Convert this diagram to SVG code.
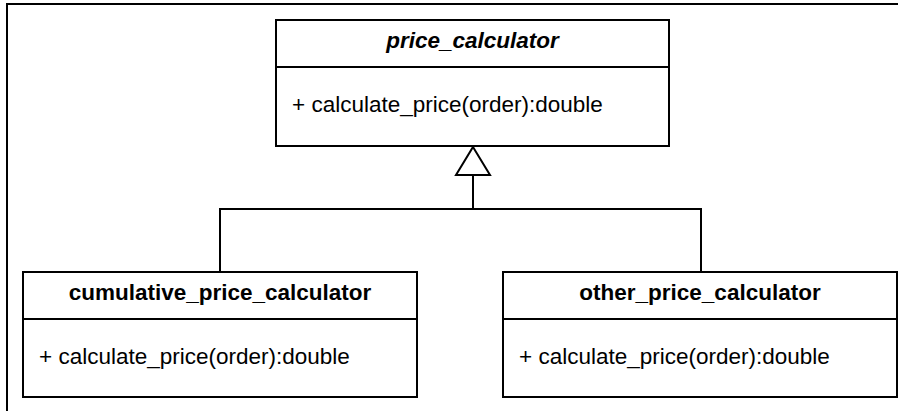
<svg xmlns="http://www.w3.org/2000/svg" width="898" height="411" viewBox="0 0 898 411">
<style>
.box{fill:#fff;stroke:#000;stroke-width:2}
.ln{fill:none;stroke:#000;stroke-width:2}
.hd{font-family:"Liberation Sans",Arial,sans-serif;font-size:22.5px;font-weight:bold;text-anchor:middle;fill:#000}
.it{font-style:italic}
.mb{font-family:"Liberation Sans",Arial,sans-serif;font-size:22.5px;fill:#000}
</style>
<rect width="898" height="411" fill="#fff"/>
<path class="ln" d="M7,411 V4 H898" stroke-width="2.5"/>
<g id="connectors">
<path class="ln" d="M220,272 V209 H701 V272"/>
<path class="ln" d="M473,209 V175"/>
<polygon class="ln" points="473,147 490,175 456,175" fill="#fff"/>
</g>
<g id="price_calculator">
<rect class="box" x="276" y="20" width="393" height="126"/>
<line class="ln" x1="276" y1="67" x2="669" y2="67"/>
<text class="hd it" x="472.5" y="48">price_calculator</text>
<text class="mb" x="292" y="112">+ calculate_price(order):double</text>
</g>
<g id="cumulative_price_calculator">
<rect class="box" x="23" y="272" width="394" height="125"/>
<line class="ln" x1="23" y1="319" x2="417" y2="319"/>
<text class="hd" x="220" y="300">cumulative_price_calculator</text>
<text class="mb" x="39" y="364">+ calculate_price(order):double</text>
</g>
<g id="other_price_calculator">
<rect class="box" x="503" y="272" width="394" height="125"/>
<line class="ln" x1="503" y1="319" x2="897" y2="319"/>
<text class="hd" x="700" y="300">other_price_calculator</text>
<text class="mb" x="519" y="364">+ calculate_price(order):double</text>
</g>
</svg>
